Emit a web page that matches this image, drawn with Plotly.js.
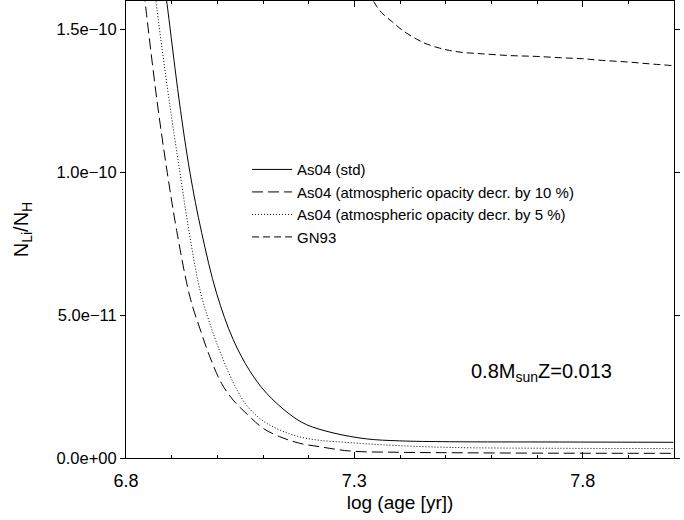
<!DOCTYPE html>
<html>
<head>
<meta charset="utf-8">
<script src="https://cdn.plot.ly/plotly-3.0.1.min.js"></script>
<style>
html, body { margin: 0; padding: 0; background: #fff; }
#chart { width: 684px; height: 520px; }
</style>
</head>
<body>
<div id="chart"></div>
<script>
// Data (x = log age [yr], y = N_Li/N_H)
var stdX = [6.8853, 6.8890, 6.9166, 6.9400, 6.9655, 6.9983, 7.0346, 7.0711, 7.1076, 7.1586, 7.1951, 7.2533, 7.3264, 7.3992, 7.5085, 7.7491, 7.9984];
var stdY = [16.4e-11, 16.0e-11, 12.5e-11, 10.0e-11, 7.9e-11, 5.77e-11, 4.15e-11, 3.05e-11, 2.27e-11, 1.53e-11, 1.17e-11, 0.88e-11, 0.67e-11, 0.60e-11, 0.57e-11, 0.56e-11, 0.55e-11];

var op10X = [6.8394, 6.8416, 6.8678, 6.8903, 6.9109, 6.9400, 6.9629, 6.9837, 7.0093, 7.0346, 7.0674, 7.1002, 7.1368, 7.1805, 7.2242, 7.2898, 7.3992, 7.5085, 7.7491, 7.9984];
var op10Y = [16.36e-11, 16.01e-11, 12.52e-11, 10.00e-11, 7.97e-11, 5.64e-11, 4.48e-11, 3.54e-11, 2.61e-11, 2.03e-11, 1.50e-11, 1.04e-11, 0.745e-11, 0.514e-11, 0.395e-11, 0.245e-11, 0.20e-11, 0.185e-11, 0.168e-11, 0.164e-11];

var op5X = [6.8634, 6.8656, 6.8947, 6.9181, 6.9384, 6.9640, 6.9946, 7.0128, 7.0346, 7.0639, 7.1002, 7.1368, 7.1805, 7.2242, 7.2898, 7.3626, 7.5085, 7.7491, 7.9984];
var op5Y = [16.4e-11, 16.0e-11, 12.5e-11, 10.0e-11, 7.9e-11, 5.75e-11, 4.2e-11, 3.45e-11, 2.65e-11, 1.85e-11, 1.30e-11, 0.98e-11, 0.74e-11, 0.62e-11, 0.54e-11, 0.46e-11, 0.37e-11, 0.34e-11, 0.33e-11];

var gnX = [7.3292, 7.3408, 7.3592, 7.3839, 7.4057, 7.4357, 7.4575, 7.4866, 7.5085, 7.5369, 7.5807, 7.6397, 7.6981, 7.7556, 7.7994, 7.8431, 7.9021, 7.9459, 7.9962];
var gnY = [16.3e-11, 16.01e-11, 15.60e-11, 15.26e-11, 14.97e-11, 14.67e-11, 14.50e-11, 14.35e-11, 14.27e-11, 14.20e-11, 14.15e-11, 14.09e-11, 14.06e-11, 14.01e-11, 13.98e-11, 13.92e-11, 13.86e-11, 13.80e-11, 13.74e-11];

var seriesNames = ["As04 (std)", "As04 (atmospheric opacity decr. by 10 %)", "As04 (atmospheric opacity decr. by 5 %)", "GN93"];

// y tick label text as printed in the reference
var yLabelAlias = {
  "0.0e+0": "0.0e+00", "0.0e+00": "0.0e+00", "0": "0.0e+00",
  "5.0e-11": "5.0e\u221211", "5.0e\u221211": "5.0e\u221211",
  "1.0e-10": "1.0e\u221210", "1.0e\u221210": "1.0e\u221210",
  "1.5e-10": "1.5e\u221210", "1.5e\u221210": "1.5e\u221210"
};

var font = "Liberation Sans, Arial, Helvetica, sans-serif";

function lineStyle(dash) {
  return {color: "#000", width: 1, dash: dash, shape: "spline", smoothing: 1};
}

var traces = [
  {x: stdX, y: stdY, name: seriesNames[0], mode: "lines", line: lineStyle("solid")},
  {x: op10X, y: op10Y, name: seriesNames[1], mode: "lines", line: lineStyle("11px,5px")},
  {x: op5X, y: op5Y, name: seriesNames[2], mode: "lines", line: lineStyle("1px,2px")},
  {x: gnX, y: gnY, name: seriesNames[3], mode: "lines", line: lineStyle("7px,4px")}
];

var layout = {
  width: 684, height: 520,
  margin: {l: 126, r: 10, t: 1, b: 62},
  font: {family: font, color: "#000"},
  showlegend: true,
  legend: {
    x: 0.221, y: 0.667, xanchor: "left", yanchor: "top",
    bgcolor: "rgba(0,0,0,0)", borderwidth: 0,
    font: {family: font, size: 15, color: "#000"},
    tracegroupgap: 0, itemwidth: 40
  },
  xaxis: {
    range: [6.8, 8.0],
    tickmode: "linear", tick0: 6.8, dtick: 0.5, tickformat: ".1f",
    ticks: "inside", ticklen: 6, tickwidth: 1, tickcolor: "#000",
    showline: true, linecolor: "#000", linewidth: 1, mirror: "ticks",
    showgrid: false, zeroline: false,
    tickfont: {family: font, size: 18, color: "#000"},
    ticklabelstandoff: 6,
    minor: {tickmode: "linear", dtick: 0.1, tick0: 6.8, ticks: "inside", ticklen: 3, tickwidth: 1, tickcolor: "#000", showgrid: false},
    title: {text: "log (age [yr])", font: {family: font, size: 19, color: "#000"}, standoff: 6}
  },
  yaxis: {
    range: [0, 1.6e-10],
    tickmode: "linear", tick0: 0, dtick: 5e-11, tickformat: ".1e",
    labelalias: yLabelAlias,
    ticks: "outside", ticklen: 5, tickwidth: 1, tickcolor: "#000",
    showline: true, linecolor: "#000", linewidth: 1, mirror: "ticks",
    showgrid: false, zeroline: false,
    tickfont: {family: font, size: 16.5, color: "#000"},
    minor: {tickmode: "linear", dtick: 1e-11, tick0: 0, ticks: "outside", ticklen: 3, tickwidth: 1, tickcolor: "#000", showgrid: false},
    title: {text: "N<sub>Li</sub>/N<sub>H</sub>", font: {family: font, size: 20, color: "#000"}, standoff: 22}
  },
  annotations: [{
    xref: "paper", yref: "paper", x: 0.625, y: 0.186, xanchor: "left", yanchor: "middle",
    text: "0.8M<sub>sun</sub>Z=0.013", showarrow: false,
    font: {family: font, size: 20, color: "#000"}
  }]
};

Plotly.newPlot("chart", traces, layout, {displayModeBar: false});
</script>
</body>
</html>
